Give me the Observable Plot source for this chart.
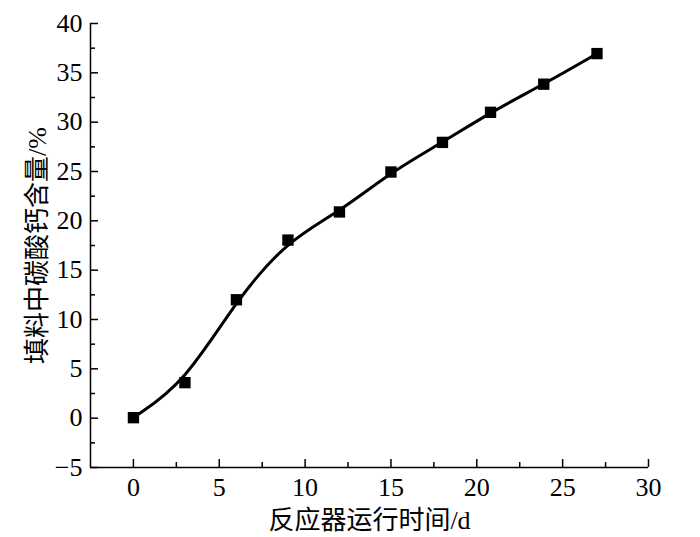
<!DOCTYPE html>
<html>
<head>
<meta charset="utf-8">
<script src="https://cdn.jsdelivr.net/npm/d3@7"></script>
<script src="https://cdn.jsdelivr.net/npm/@observablehq/plot@0.6"></script>
<style>
  html, body { margin: 0; padding: 0; background: #fff; }
  #chart { width: 700px; height: 537px; }
</style>
</head>
<body>
<div id="chart"></div>
<script>
// Data
const days = [0, 3, 6, 9, 12, 15, 18, 20.8, 23.9, 27];
const caco3 = [0.05, 3.6, 12.0, 18.05, 20.9, 24.95, 27.95, 31.0, 33.85, 36.95];

const xMajorTicks = [0, 5, 10, 15, 20, 25, 30];
const xMinorTicks = [2.5, 7.5, 12.5, 17.5, 22.5, 27.5];
const yMajorTicks = [-5, 0, 5, 10, 15, 20, 25, 30, 35, 40];
const yMinorTicks = [-2.5, 2.5, 7.5, 12.5, 17.5, 22.5, 27.5, 32.5, 37.5];

const xTitle = "反应器运行时间/d";
const yTitle = "填料中碳酸钙含量/%";

const data = days.map((d, i) => ({day: d, value: caco3[i]}));

const fontFam = "'Liberation Serif', 'Times New Roman', 'Noto Sans CJK SC', serif";

const chart = Plot.plot({
  width: 700,
  height: 537,
  marginLeft: 90,
  marginRight: 52,
  marginTop: 23,
  marginBottom: 70,
  style: {fontFamily: fontFam, fontSize: "26px", color: "#000", background: "#fff"},
  x: {domain: [-2.5, 30]},
  y: {domain: [-5, 40]},
  marks: [
    Plot.axisX({ticks: xMajorTicks, tickSize: -8, tickPadding: 18, label: null, fontSize: 26, strokeWidth: 1.5}),
    Plot.axisX({ticks: xMinorTicks, tickSize: -5, tickFormat: () => "", label: null, strokeWidth: 1.5}),
    Plot.axisY({ticks: yMajorTicks, tickSize: -8, tickPadding: 16, label: null, fontSize: 26, strokeWidth: 1.5}),
    Plot.axisY({ticks: yMinorTicks, tickSize: -5, tickFormat: () => "", label: null, strokeWidth: 1.5}),
    Plot.ruleX([-2.5], {strokeWidth: 1.5}),
    Plot.ruleY([-5], {strokeWidth: 1.5}),
    Plot.line(data, {x: "day", y: "value", curve: "basis", stroke: "#000", strokeWidth: 3}),
    Plot.dot(data, {x: "day", y: "value", symbol: "square", r: 6.4, fill: "#000", stroke: "none"}),
    Plot.text([xTitle], {frameAnchor: "bottom", textAnchor: "middle", lineAnchor: "middle", dy: 53, fontSize: 26, fill: "#000"}),
    Plot.text([yTitle], {frameAnchor: "left", textAnchor: "middle", lineAnchor: "middle", dx: -53, rotate: -90, fontSize: 26, fill: "#000"})
  ]
});

document.getElementById("chart").appendChild(chart);
</script>
</body>
</html>
